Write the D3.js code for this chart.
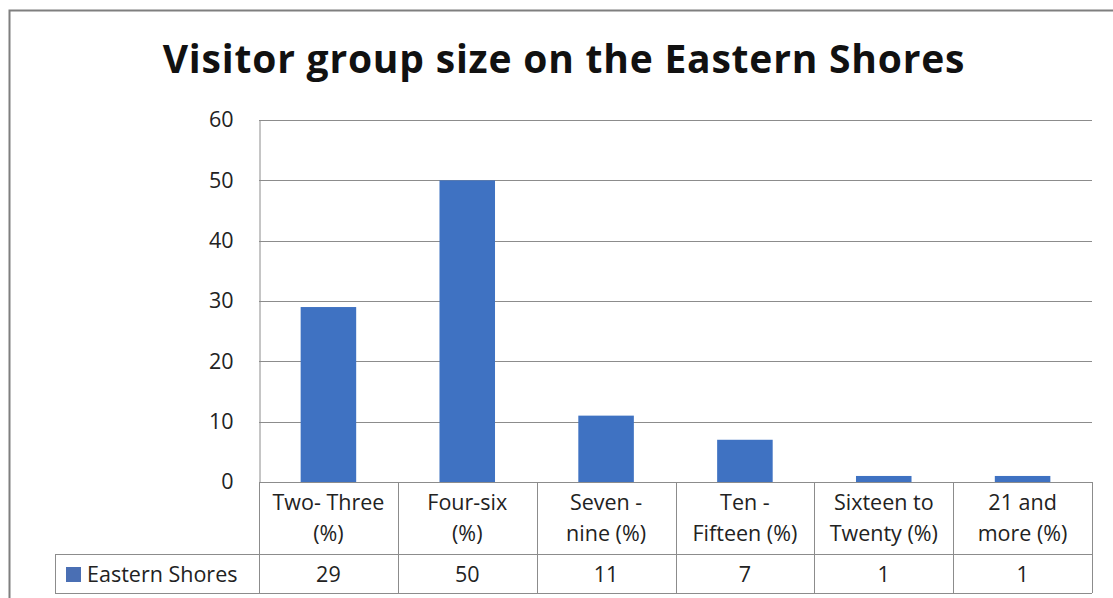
<!DOCTYPE html>
<html>
<head>
<meta charset="utf-8">
<script src="https://cdn.jsdelivr.net/npm/d3@7"></script>
<style>
  html, body { margin: 0; padding: 0; background: #fff; }
  svg { display: block; }
  text { font-family: "Open Sans", "Noto Sans", sans-serif; fill: #222; }
</style>
</head>
<body>
<svg id="chart" width="1113" height="598"></svg>
<script>
// Visitor group size, Eastern Shores (%)
const categories = [
  ["Two- Three", "(%)"],
  ["Four-six", "(%)"],
  ["Seven -", "nine (%)"],
  ["Ten -", "Fifteen (%)"],
  ["Sixteen to", "Twenty (%)"],
  ["21 and", "more (%)"]
];
const values = [29, 50, 11, 7, 1, 1];
const seriesName = "Eastern Shores";
const yTicks = [0, 10, 20, 30, 40, 50, 60];
const title = "Visitor group size on the Eastern Shores";

const svg = d3.select("#chart");
const W = 1113, H = 598;
const plot = { left: 259, right: 1092, top: 120, bottom: 482 };
const tableRows = { header: 554, values: 593 };
const legendLeft = 55;
const barColor = "#3f72c2";
const lineColor = "#8c8c8c";
const fs = "21.5px";

// outer chart frame
svg.append("rect")
  .attr("x", 9.5).attr("y", 10.5)
  .attr("width", W + 20).attr("height", H)
  .attr("fill", "none").attr("stroke", "#7f7f7f").attr("stroke-width", 2);

// title
svg.append("text")
  .attr("x", 564).attr("y", 73)
  .attr("text-anchor", "middle")
  .style("font-weight", "bold").style("font-size", "39px")
  .style("letter-spacing", "0.8px")
  .style("fill", "#111")
  .text(title);

const idx = categories.map((d, i) => i);
const x = d3.scaleBand().domain(idx).range([plot.left, plot.right]).paddingInner(0).paddingOuter(0);
const y = d3.scaleLinear().domain([0, 60]).range([plot.bottom, plot.top]);

// horizontal gridlines
svg.append("g")
  .selectAll("line").data(yTicks.filter(t => t > 0)).join("line")
  .attr("x1", plot.left).attr("x2", plot.right)
  .attr("y1", d => Math.round(y(d)) + 0.5).attr("y2", d => Math.round(y(d)) + 0.5)
  .attr("stroke", lineColor).attr("stroke-width", 1);

// y axis
const yAxis = d3.axisLeft(y).tickValues(yTicks).tickSize(0).tickPadding(26);
const gy = svg.append("g").attr("transform", `translate(${plot.left + 0.5},0)`).call(yAxis);
gy.select(".domain").attr("stroke", lineColor);
gy.selectAll("text").style("font-size", fs).style("fill", "#222")
  .attr("font-family", null);

// bars
const barW = x.bandwidth() * 0.4;
svg.append("g")
  .selectAll("rect").data(values).join("rect")
  .attr("x", (d, i) => x(i) + (x.bandwidth() - barW) / 2)
  .attr("y", d => y(d))
  .attr("width", barW)
  .attr("height", d => y(0) - y(d))
  .attr("fill", barColor);

// data table
const tbl = svg.append("g").attr("stroke", lineColor).attr("stroke-width", 1);
tbl.append("line").attr("x1", plot.left).attr("x2", plot.right)
  .attr("y1", plot.bottom + 0.5).attr("y2", plot.bottom + 0.5);
[tableRows.header, tableRows.values].forEach(yy => {
  tbl.append("line").attr("x1", legendLeft).attr("x2", plot.right)
    .attr("y1", yy + 0.5).attr("y2", yy + 0.5);
});
const colEdges = idx.map(i => x(i)).concat([plot.right]);
colEdges.forEach(xx => {
  tbl.append("line").attr("x1", Math.round(xx) + 0.5).attr("x2", Math.round(xx) + 0.5)
    .attr("y1", plot.bottom).attr("y2", tableRows.values);
});
tbl.append("line").attr("x1", legendLeft + 0.5).attr("x2", legendLeft + 0.5)
  .attr("y1", tableRows.header).attr("y2", tableRows.values);

// category labels
const catG = svg.append("g");
categories.forEach((lines, i) => {
  const t = catG.append("text")
    .attr("x", x(i) + x.bandwidth() / 2)
    .attr("text-anchor", "middle")
    .style("font-size", fs).style("fill", "#222");
  lines.forEach((ln, k) => {
    t.append("tspan").attr("x", x(i) + x.bandwidth() / 2)
      .attr("y", 510 + k * 31).text(ln);
  });
});

// value row
svg.append("g").selectAll("text").data(values).join("text")
  .attr("x", (d, i) => x(i) + x.bandwidth() / 2)
  .attr("y", 582)
  .attr("text-anchor", "middle")
  .style("font-size", fs).style("fill", "#222")
  .text(d => d);

// legend key in table
svg.append("rect").attr("x", 66).attr("y", 567).attr("width", 15).attr("height", 15).attr("fill", "#4a6fb4");
svg.append("text").attr("x", 87).attr("y", 582)
  .style("font-size", fs).style("fill", "#222")
  .text(seriesName);
</script>
</body>
</html>
